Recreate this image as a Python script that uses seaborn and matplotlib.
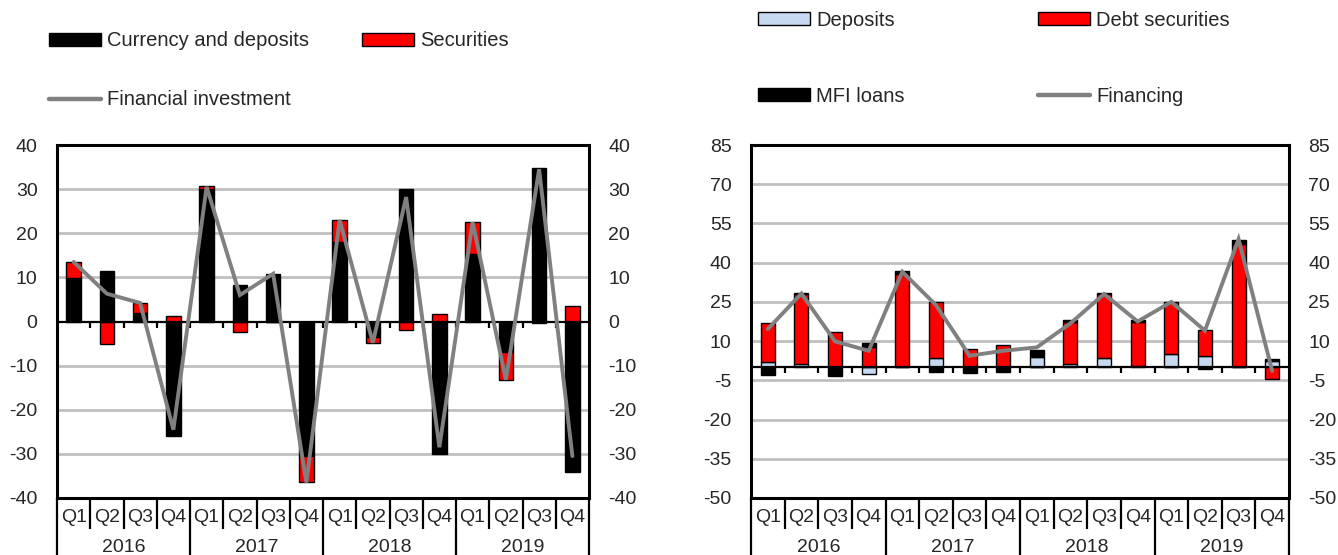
import numpy as np
import pandas as pd
import matplotlib
matplotlib.use("Agg")
import matplotlib.pyplot as plt
import matplotlib.transforms as mtransforms
from matplotlib.patches import Patch
from matplotlib.lines import Line2D
import seaborn as sns

# ---------------- data ----------------
years = ["2016", "2017", "2018", "2019"]
quarter_labels = ["Q1", "Q2", "Q3", "Q4"] * 4
periods = [f"{y}{q}" for y in years for q in ["Q1", "Q2", "Q3", "Q4"]]

# Left panel: households' financial investment
currency_deposits = [9.8, 11.5, 2.0, -26.0, 30.0, 8.3, 10.8, -30.5,
                     18.0, -3.5, 30.0, -30.0, 15.2, -7.0, 34.8, -34.0]
securities = [3.7, -5.0, 2.2, 1.3, 0.7, -2.3, 0.0, -5.8,
              5.0, -1.4, -1.9, 1.7, 7.3, -6.3, -0.3, 3.4]
financial_investment = [13.5, 6.3, 4.2, -24.5, 30.5, 6.0, 10.8, -36.5,
                        23.0, -4.8, 28.2, -28.5, 22.5, -13.2, 34.5, -30.5]

# Right panel: financing
deposits = [2.0, 1.3, 0.0, -2.7, 0.0, 3.7, 0.0, 0.0,
            4.0, 1.4, 3.7, 0.5, 5.0, 4.4, 0.0, 2.3]
debt_securities = [14.9, 26.7, 13.3, 7.8, 35.8, 21.4, 6.9, 8.6,
                   0.0, 16.0, 24.3, 16.9, 20.1, 10.0, 47.3, -4.4]
mfi_loans = [-3.0, 0.3, -3.5, 1.3, 1.2, -1.7, -2.2, -2.0,
             2.7, 0.5, 0.3, 0.5, 0.0, -0.8, 1.3, 0.8]
financing = [14.6, 28.2, 9.9, 6.3, 36.5, 23.8, 4.4, 6.3,
             7.6, 16.8, 28.0, 17.5, 25.0, 14.0, 49.0, -1.4]

left_ticks = [-40, -30, -20, -10, 0, 10, 20, 30, 40]
right_ticks = [-50, -35, -20, -5, 10, 25, 40, 55, 70, 85]

# ---------------- style ----------------
sns.set_style("white")
plt.rcParams["font.family"] = ["Liberation Sans", "DejaVu Sans"]
plt.rcParams["axes.unicode_minus"] = False
FS = 14
FS_LEG = 14.5
BLACK = "#000000"
RED = "#ff0000"
LBLUE = "#c6d9f1"
GREY = "#808080"
GRID = "#c0c0c0"

fig = plt.figure(figsize=(13.38, 5.55), dpi=100)
W, H = 1338, 555
axL = fig.add_axes([57 / W, 57 / H, (589 - 57) / W, (498 - 145) / H])
axR = fig.add_axes([751 / W, 57 / H, (1289 - 751) / W, (498 - 145) / H])


def stacked(ax, series, colors, width):
    n = len(series[0])
    pos = np.zeros(n)
    neg = np.zeros(n)
    for vals, col in zip(series, colors):
        v = np.asarray(vals, dtype=float)
        bottom = np.where(v >= 0, pos, neg)
        bottom = np.where(v == 0, 0.0, bottom)
        df = pd.DataFrame({"period": periods, "value": v})
        sns.barplot(data=df, x="period", y="value", order=periods, color=col,
                    saturation=1, width=width, edgecolor="black", linewidth=1.0,
                    bottom=bottom, errorbar=None, ax=ax, zorder=3)
        pos = pos + np.where(v > 0, v, 0)
        neg = neg + np.where(v < 0, v, 0)


def decorate(ax, ticks, line_vals, tick_len_units):
    lo, hi = ticks[0], ticks[-1]
    df = pd.DataFrame({"x": np.arange(16), "y": line_vals})
    sns.lineplot(data=df, x="x", y="y", color=GREY, linewidth=2.8, ax=ax,
                 zorder=5, solid_joinstyle="miter")
    ax.set_xlim(-0.5, 15.5)
    ax.set_ylim(lo, hi)
    ax.set_yticks(ticks)
    for t in ticks[1:-1]:
        if t == 0:
            continue
        ax.axhline(t, color=GRID, linewidth=2.0, zorder=1)
    ax.axhline(0, color="black", linewidth=1.6, zorder=4)
    # small ticks at category boundaries on the zero line
    ax.vlines(np.arange(0.5, 15.5, 1.0), -tick_len_units, 0, color="black",
              linewidth=1.6, zorder=4)
    ax.set_xticks([])
    ax.set_xlabel("")
    ax.set_ylabel("")
    ax.tick_params(axis="y", length=0, pad=14, labelsize=FS,
                   labelleft=True, labelright=True, left=False, right=False)
    for s in ax.spines.values():
        s.set_visible(True)
        s.set_color("black")
        s.set_linewidth(2.2)
    # category labels below the axis
    tr = mtransforms.blended_transform_factory(ax.transData, ax.transAxes)
    ax_h = 353.0
    for i, q in enumerate(quarter_labels):
        ax.text(i, -20 / ax_h, q, transform=tr, ha="center", va="center",
                fontsize=FS)
    for j, y in enumerate(years):
        ax.text(4 * j + 1.5, -50 / ax_h, y, transform=tr, ha="center",
                va="center", fontsize=FS)
    for b in np.arange(-0.5, 16.0, 1.0):
        is_year = abs(((b + 0.5) % 4)) < 1e-9
        y_end = -60 / ax_h if is_year else -31 / ax_h
        ax.plot([b, b], [0, y_end], transform=tr, color="black",
                linewidth=1.6, clip_on=False, solid_capstyle="butt")


stacked(axL, [currency_deposits, securities], [BLACK, RED], 0.44)
decorate(axL, left_ticks, financial_investment, 1.4)

stacked(axR, [deposits, debt_securities, mfi_loans], [LBLUE, RED, BLACK], 0.42)
decorate(axR, right_ticks, financing, 2.3)


def entry(handle, label, x_px, y_px):
    fig.legend(handles=[handle], labels=[label], loc="center left",
               bbox_to_anchor=(x_px / W, 1 - y_px / H), frameon=False,
               borderpad=0, borderaxespad=0, handlelength=2.6,
               handleheight=0.6, handletextpad=0.3, fontsize=FS_LEG)


entry(Patch(facecolor=BLACK, edgecolor="black", linewidth=1), "Currency and deposits", 49, 41)
entry(Patch(facecolor=RED, edgecolor="black", linewidth=1), "Securities", 362, 41)
entry(Line2D([], [], color=GREY, linewidth=3.2), "Financial investment", 49, 100)

entry(Patch(facecolor=LBLUE, edgecolor="black", linewidth=1), "Deposits", 758, 20)
entry(Patch(facecolor=RED, edgecolor="black", linewidth=1), "Debt securities", 1038, 20)
entry(Patch(facecolor=BLACK, edgecolor="black", linewidth=1), "MFI loans", 758, 96)
entry(Line2D([], [], color=GREY, linewidth=3.2), "Financing", 1038, 96)

fig.savefig("out.png", dpi=100)
